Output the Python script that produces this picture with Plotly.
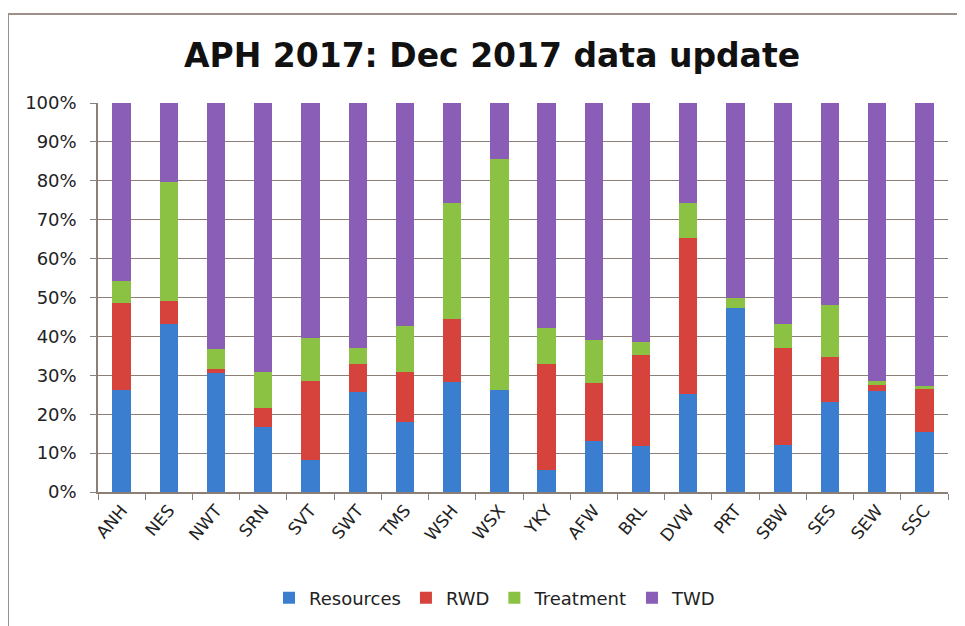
import plotly.graph_objects as go

categories = ["ANH", "NES", "NWT", "SRN", "SVT", "SWT", "TMS", "WSH", "WSX", "YKY",
              "AFW", "BRL", "DVW", "PRT", "SBW", "SES", "SEW", "SSC"]
# cumulative tops (%)
resources_top = [26.2, 43.2, 30.5, 16.6, 8.3, 25.8, 18.0, 28.3, 26.2, 5.6,
                 13.1, 11.8, 25.3, 47.2, 12.0, 23.2, 26.0, 15.5]
rwd_top = [48.5, 49.2, 31.5, 21.7, 28.6, 32.9, 30.9, 44.6, 26.2, 32.9,
           28.1, 35.2, 65.2, 47.2, 36.9, 34.8, 27.5, 26.4]
treatment_top = [54.3, 79.8, 36.7, 30.9, 39.5, 36.9, 42.7, 74.4, 85.6, 42.1,
                 39.2, 38.6, 74.4, 50.0, 43.3, 48.2, 28.6, 27.2]

resources = [round(r, 1) for r in resources_top]
rwd = [round(b - a, 1) for a, b in zip(resources_top, rwd_top)]
treatment = [round(b - a, 1) for a, b in zip(rwd_top, treatment_top)]
twd = [round(100 - t, 1) for t in treatment_top]

series = [("Resources", resources, "#3b7ecf"),
          ("RWD", rwd, "#d6423c"),
          ("Treatment", treatment, "#8cc244"),
          ("TWD", twd, "#8a5db7")]

fig = go.Figure()
for name, vals, col in series:
    fig.add_trace(go.Bar(x=categories, y=vals, name=name, marker_color=col,
                         marker_line_width=0))

font = "DejaVu Sans"
W, H = 965, 626
OFF = 8  # default page margin of the html body
# target plot area in screen pixels
SX0, SX1, SY0, SY1 = 98, 948, 103, 492
L, T = SX0 - OFF, SY0 - OFF
R, B = W - (SX1 - OFF), H - (SY1 - OFF)
pw, ph = SX1 - SX0, SY1 - SY0

def px(x):
    return (x - SX0) / pw

def py(y):
    return (SY1 - y) / ph

fig.update_layout(
    width=W, height=H,
    margin=dict(l=L, r=R, t=T, b=B, autoexpand=False),
    barmode="stack", bargap=0.61,
    paper_bgcolor="white", plot_bgcolor="white",
    title=dict(text="<b>APH 2017: Dec 2017 data update</b>", x=px(492), xref="paper",
               xanchor="center", y=1 - (55 - OFF) / H, yanchor="middle",
               font=dict(family=font, size=33, color="#111")),
    showlegend=True,
    legend=dict(orientation="h", x=px(495), xanchor="center", y=py(598), yanchor="middle",
                font=dict(family=font, size=18, color="#222"), traceorder="normal",
                itemwidth=30),
    xaxis=dict(tickangle=-50, tickfont=dict(family=font, size=17, color="#222"),
               showline=True, linecolor="#8c7f78", linewidth=1.5,
               ticks="outside", tickson="boundaries", ticklen=6, tickcolor="#8c7f78",
               showgrid=False, fixedrange=True, automargin=False),
    yaxis=dict(range=[0, 100], tickvals=list(range(0, 101, 10)),
               ticktext=[f"{v}%" for v in range(0, 101, 10)],
               tickfont=dict(family=font, size=18, color="#222"),
               showline=True, linecolor="#8c7f78", linewidth=1.5,
               ticks="outside", ticklen=6, tickcolor="#8c7f78",
               showgrid=True, gridcolor="#8c7f78", gridwidth=1.2,
               zeroline=False, ticklabelstandoff=10, automargin=False),
    shapes=[
        dict(type="line", xref="paper", yref="paper", x0=px(8), x1=px(980), y0=py(14), y1=py(14),
             line=dict(color="#9c9088", width=2)),
        dict(type="line", xref="paper", yref="paper", x0=px(8), x1=px(8), y0=py(14), y1=py(640),
             line=dict(color="#9c9088", width=2)),
    ],
)

fig.write_html("out.html")
